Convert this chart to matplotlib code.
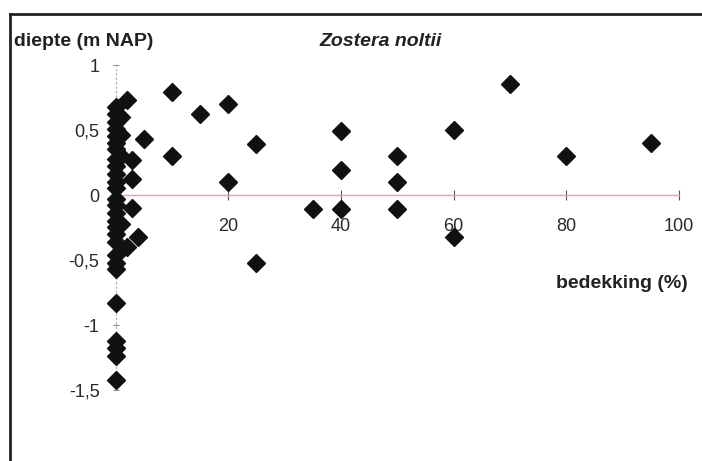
import matplotlib
matplotlib.use("Agg")
import matplotlib.pyplot as plt
from matplotlib.lines import Line2D

plt.rcParams['font.family'] = ['Liberation Sans', 'DejaVu Sans']

# Data: coverage (%) vs depth (m NAP)
cover = [0, 0, 0, 0, 0, 0, 0, 0, 0, 0, 0, 0, 0, 0, 0, 0, 0, 0, 0, 0, 0, 0,
         0, 0, 0, 0, 0,
         1, 1, 1, 1,
         2, 5, 3, 3, 3, 4, 2,
         10, 10, 15, 20, 20, 25, 25, 35, 40, 40, 40, 50, 50, 50,
         60, 60, 70, 80, 95]
depth = [0.68, 0.62, 0.56, 0.51, 0.45, 0.40, 0.35, 0.28, 0.22, 0.16, 0.10, 0.05,
         -0.03, -0.08, -0.14, -0.20, -0.25, -0.30, -0.36, -0.46, -0.52, -0.57,
         -0.83, -1.12, -1.18, -1.24, -1.42,
         0.60, 0.46, 0.30, -0.22,
         0.73, 0.43, 0.27, 0.12, -0.10, -0.32, -0.40,
         0.79, 0.30, 0.62, 0.70, 0.10, 0.39, -0.52, -0.11, 0.49, 0.19, -0.11,
         0.30, 0.10, -0.11,
         0.50, -0.32, 0.85, 0.30, 0.40]

x_ticks = [20, 40, 60, 80, 100]
x_ticklabels = ['20', '40', '60', '80', '100']
y_ticks = [-1.5, -1, -0.5, 0, 0.5, 1]
y_ticklabels = ['-1,5', '-1', '-0,5', '0', '0,5', '1']

W, H = 702, 461
fig = plt.figure(figsize=(W / 100, H / 100), dpi=100)
fig.patch.set_facecolor('white')

# axes spanning x 0..100, y -1.5..1
left_px, right_px = 115.5, 679
top_px, bot_px = 65, 390
ax = fig.add_axes([left_px / W, 1 - bot_px / H,
                   (right_px - left_px) / W, (bot_px - top_px) / H])
ax.set_xlim(0, 100)
ax.set_ylim(-1.5, 1)
ax.patch.set_alpha(0)

for s in ['top', 'right']:
    ax.spines[s].set_visible(False)
ax.spines['left'].set_position(('data', 0))
ax.spines['bottom'].set_position(('data', 0))
ax.spines['bottom'].set_color('#d9a8b8')
ax.spines['bottom'].set_linewidth(1.0)
ax.spines['left'].set_color('#aaaaaa')
ax.spines['left'].set_linewidth(0.8)
ax.spines['left'].set_linestyle((0, (1, 3)))

ax.set_xticks(x_ticks)
ax.set_xticklabels(x_ticklabels)
ax.set_yticks(y_ticks)
ax.set_yticklabels(y_ticklabels)
ax.tick_params(axis='x', direction='inout', length=7, width=0.8, color='#555555',
               pad=13, labelsize=13, labelcolor='#2a2a2a')
ax.tick_params(axis='y', direction='inout', length=5, width=0.8, color='#888888',
               pad=9, labelsize=13, labelcolor='#2a2a2a')

ax.plot(cover, depth, linestyle='none', marker='D', markersize=9,
        color='#111111', clip_on=False, zorder=3)

# texts
fig.text(14 / W, 1 - 42 / H, 'diepte (m NAP)', fontsize=14, fontweight='bold',
         ha='left', va='center', color='#222222')
fig.text(381 / W, 1 - 42 / H, 'Zostera noltii', fontsize=14, fontweight='bold',
         fontstyle='italic', ha='center', va='center', color='#222222')
fig.text(622 / W, 1 - 283 / H, 'bedekking (%)', fontsize=14, fontweight='bold',
         ha='center', va='center', color='#222222')

# frame (top and left edges visible in crop)
fig.add_artist(Line2D([10 / W, 1], [1 - 14 / H, 1 - 14 / H], color='#222222', lw=2,
                      transform=fig.transFigure))
fig.add_artist(Line2D([10 / W, 10 / W], [0, 1 - 14 / H], color='#222222', lw=2,
                      transform=fig.transFigure))

fig.savefig('out.png', dpi=100)
